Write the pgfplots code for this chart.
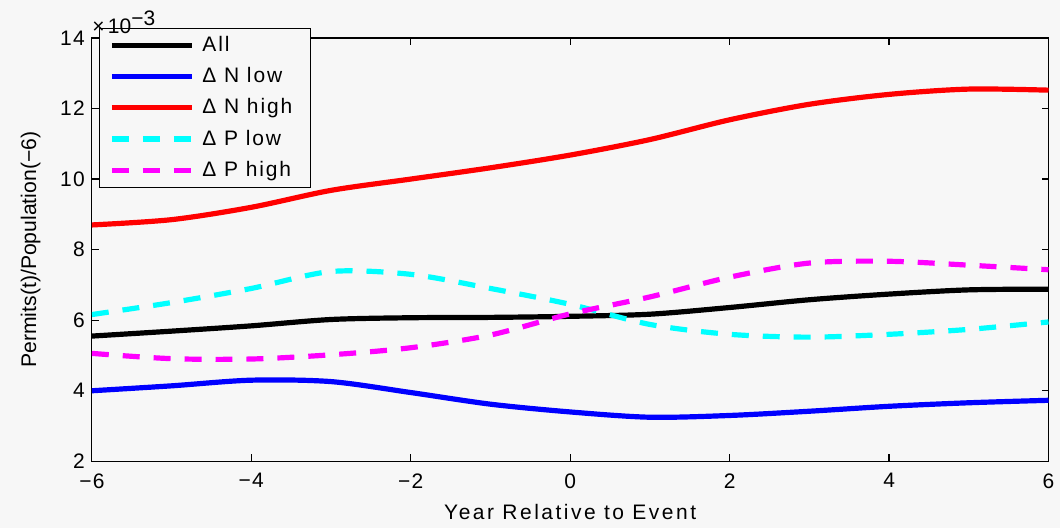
\documentclass[border=0pt]{standalone}
\usepackage{fontspec}
\setmainfont{Liberation Sans}
\usepackage{pgfplots}
\pgfplotsset{compat=1.18}
\definecolor{bg}{HTML}{F7F7F7}
\definecolor{cyanc}{RGB}{0,255,255}
\definecolor{magc}{RGB}{255,0,255}
\definecolor{bluec}{RGB}{0,0,255}
\definecolor{redc}{RGB}{255,0,0}
\begin{document}
\begin{tikzpicture}
\fill[bg] (-46pt,-33.5pt) rectangle (484.5pt,231pt);
\begin{axis}[
  scale only axis,
  width=479pt, height=212pt,
  xmin=-6, xmax=6, ymin=2, ymax=14,
  xtick={-6,-4,...,6},
  xticklabels={−6,−4,−2,0,2,4,6},
  ytick={2,4,...,14},
  yticklabels={2,4,6,8,10,12,14},
  tick align=inside,
  major tick length=3.5pt,
  tick style={black, line width=0.6pt},
  axis line style={black, line width=0.6pt},
  axis background/.style={fill=bg},
  ticklabel style={font=\fontsize{10.5}{12}\selectfont\addfontfeature{LetterSpace=6}},
  xticklabel style={yshift=-2.5pt},
  xlabel={Year Relative to Event},
  ylabel={Permits(t)/Population(−6)},
  xlabel style={font=\fontsize{10.5}{12}\selectfont\addfontfeature{LetterSpace=12}, yshift=-1pt},
  ylabel style={font=\fontsize{10.6}{12}\selectfont, yshift=3pt},
  legend style={at={(0.0073,1.0236)}, anchor=north west, draw=black, line width=0.5pt, fill=bg,
    font=\fontsize{10.5}{12}\selectfont\addfontfeature{LetterSpace=9}, row sep=2.5pt, inner xsep=5pt, inner ysep=2pt,
    nodes={inner xsep=4pt}},
  legend cell align=left,
  legend image code/.code={\draw[#1] (0pt,0pt) -- (40pt,0pt);},
  every axis plot/.append style={line width=2.6pt, smooth},
]
\addplot[black] coordinates {(-6,5.55) (-5,5.69) (-4,5.84) (-3,6.02) (-2,6.07) (-1,6.08) (0,6.11) (1,6.17) (2,6.36) (3,6.58) (4,6.74) (5,6.86) (6,6.88)};
\addlegendentry{All}
\addplot[bluec] coordinates {(-6,4.0) (-5,4.14) (-4,4.3) (-3,4.26) (-2,3.95) (-1,3.62) (0,3.4) (1,3.25) (2,3.3) (3,3.42) (4,3.56) (5,3.66) (6,3.73)};
\addlegendentry{Δ N low}
\addplot[redc] coordinates {(-6,8.7) (-5,8.85) (-4,9.2) (-3,9.68) (-2,10.0) (-1,10.32) (0,10.68) (1,11.12) (2,11.68) (3,12.12) (4,12.4) (5,12.55) (6,12.52)};
\addlegendentry{Δ N high}
\addplot[cyanc, dash pattern=on 8.5pt off 7pt] coordinates {(-6,6.16) (-5,6.5) (-4,6.9) (-3,7.38) (-2,7.3) (-1,6.9) (0,6.45) (1,5.88) (2,5.6) (3,5.52) (4,5.6) (5,5.74) (6,5.95)};
\addlegendentry{Δ P low}
\addplot[magc, dash pattern=on 8.5pt off 7pt] coordinates {(-6,5.06) (-5,4.91) (-4,4.9) (-3,5.02) (-2,5.22) (-1,5.58) (0,6.18) (1,6.66) (2,7.22) (3,7.62) (4,7.67) (5,7.56) (6,7.43)};
\addlegendentry{Δ P high}
\end{axis}
\node[anchor=south west, inner sep=0pt, font=\fontsize{10.5}{12}\selectfont] at (0pt,214pt) {×\,10$^{\textrm{−3}}$};
\end{tikzpicture}
\end{document}
